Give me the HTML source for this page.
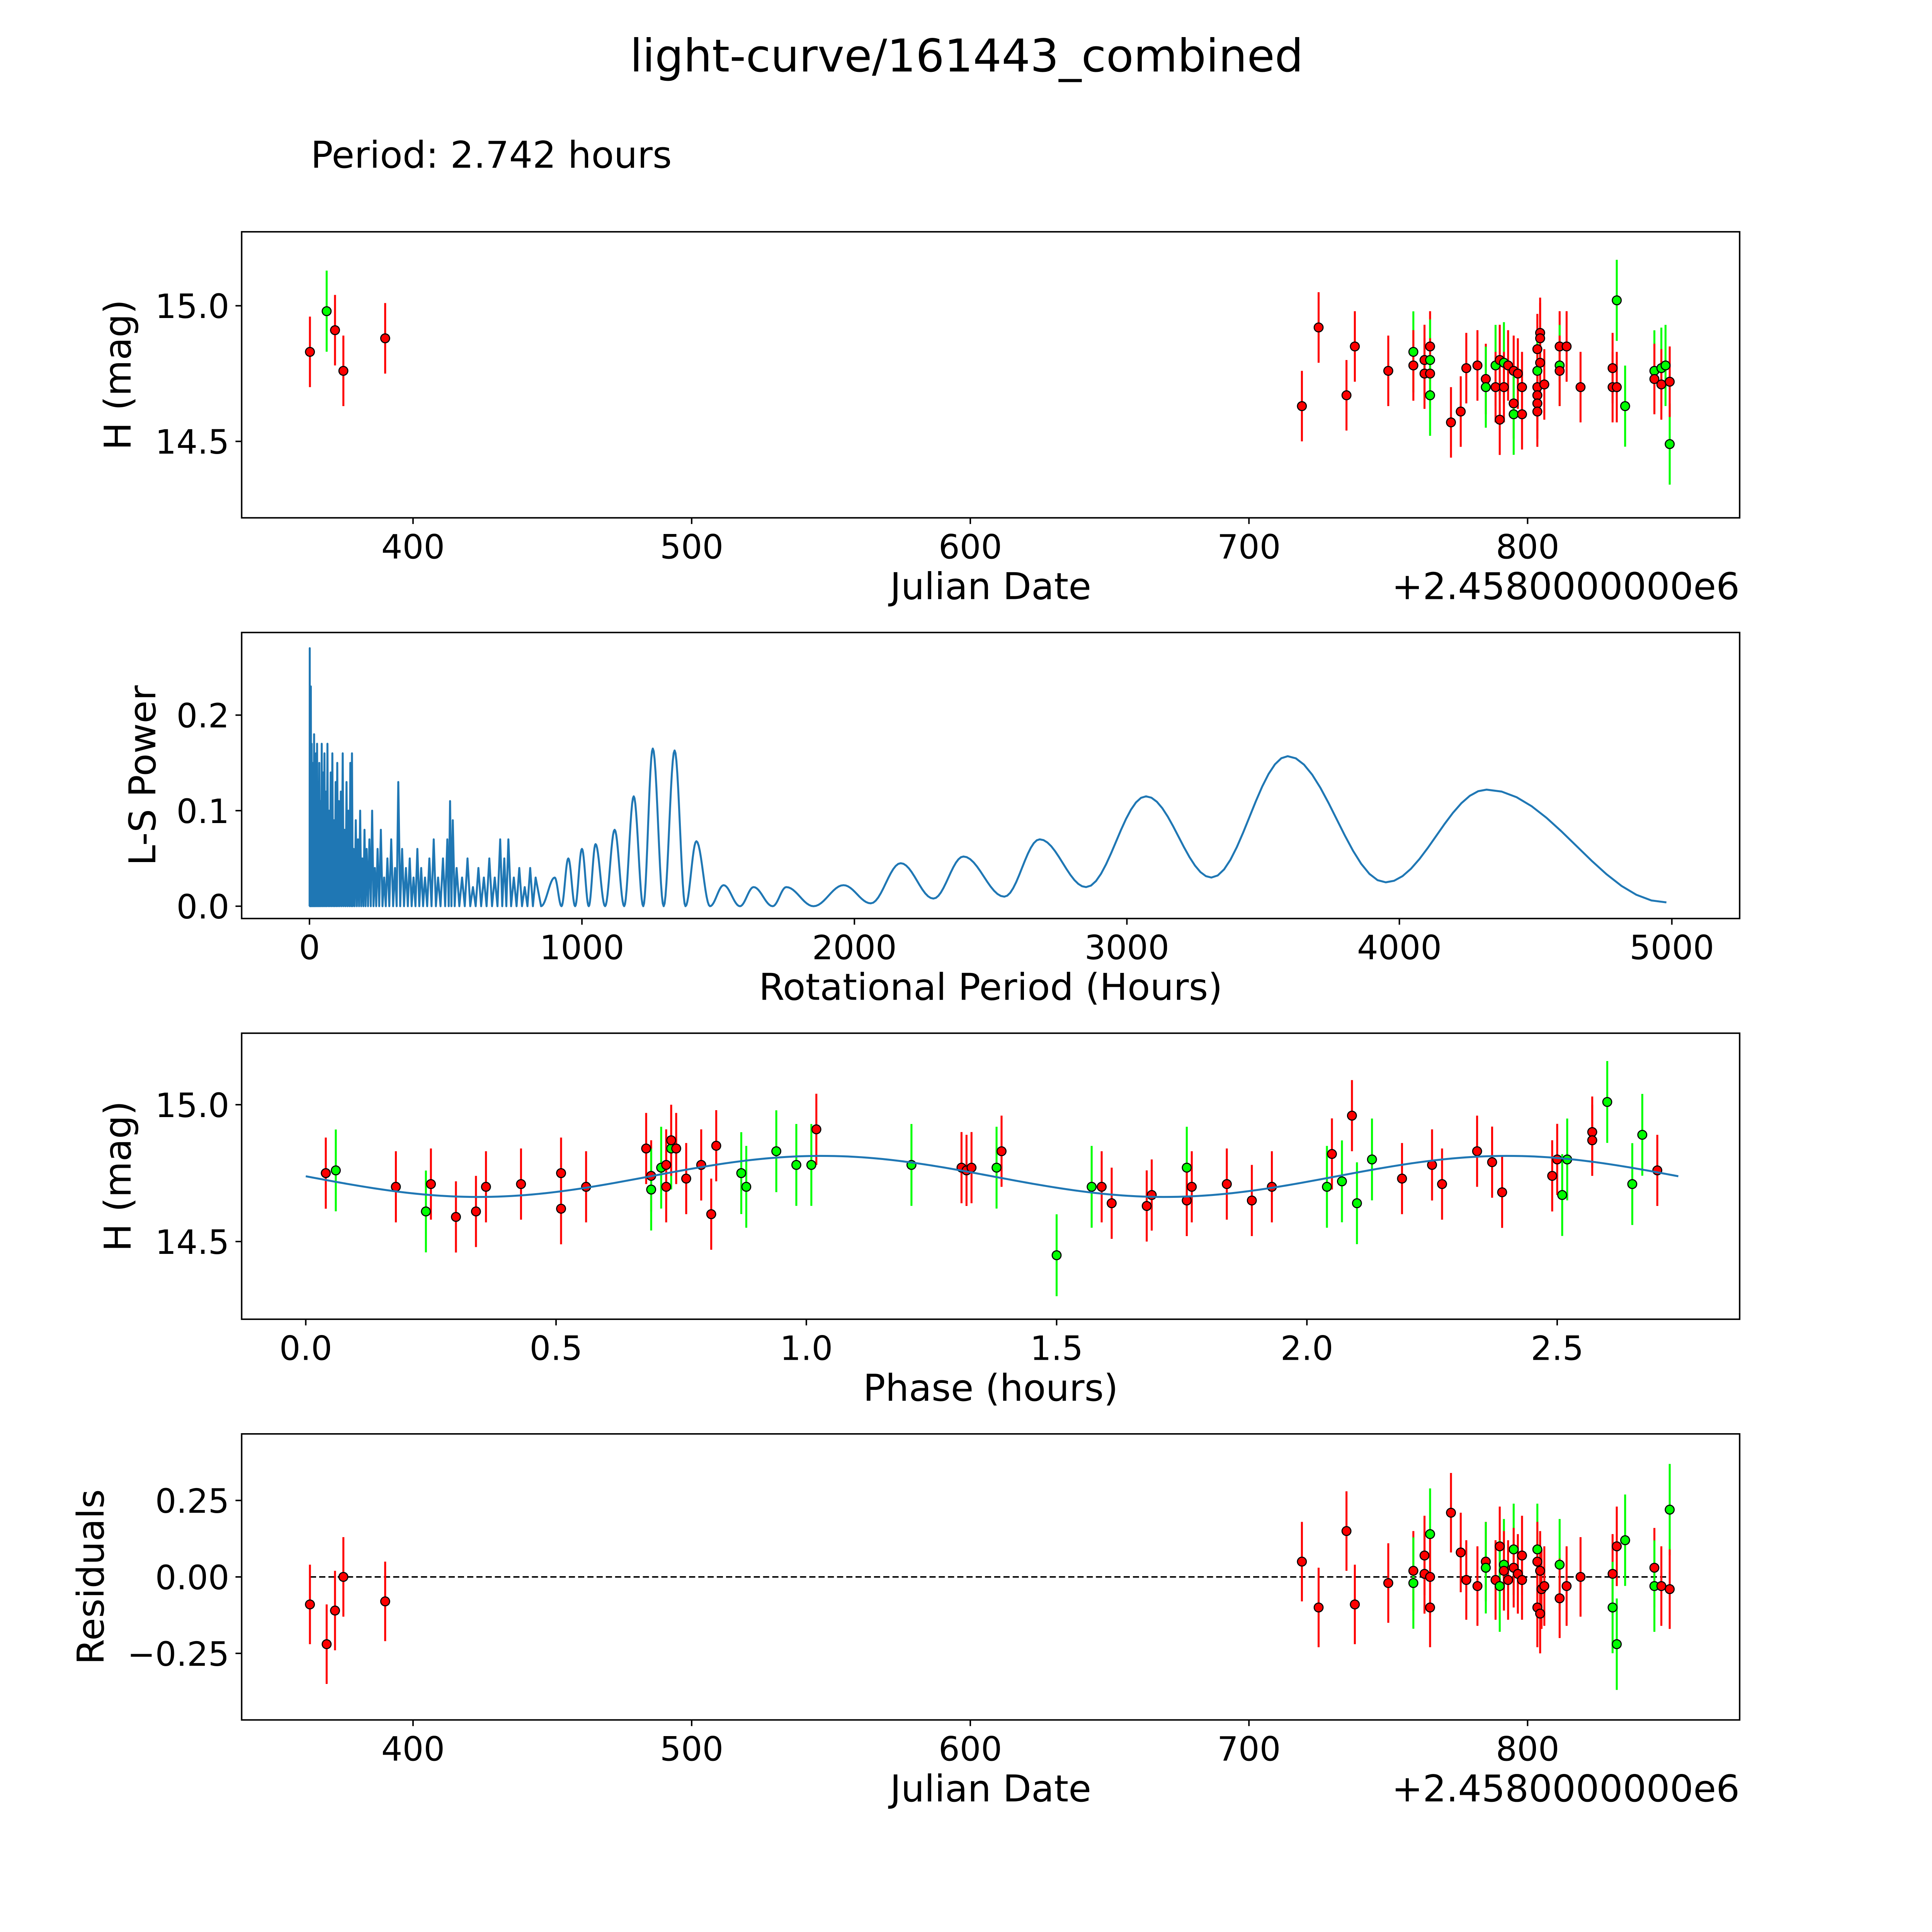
<!DOCTYPE html>
<html><head><meta charset="utf-8"><style>
html,body{margin:0;padding:0;background:#fff;overflow:hidden;width:100vw;height:100vh;}
svg{display:block;width:100vw;height:100vh;font-family:"DejaVu Sans","Liberation Sans",sans-serif;}
</style></head><body>
<svg id="fig" viewBox="0 0 1567 1567" preserveAspectRatio="xMinYMin meet" xmlns="http://www.w3.org/2000/svg">
<rect x="0" y="0" width="1567" height="1567" fill="#fff"/>
<text x="784" y="58" font-size="36.5" text-anchor="middle">light-curve/161443_combined</text>
<text x="252" y="136" font-size="30">Period: 2.742 hours</text>
<g id="plots"></g>
</svg>
<script>
// ---------- DATA ----------
const lcJD = [363,369,372,375,390,719,725,735,738,750,759,759,763,763,765,765,765,765,772.5,776,778,782,785,785,788.5,788.5,790,790,791.5,791.5,793,795,795,795,796.5,798,798,803.5,803.5,803.5,803.5,803.5,803.5,804.5,804.5,804.5,806,811.5,811.5,811.5,814,819,830.5,830.5,832,832,835,845.5,845.5,848,848,849.5,851,851];
const lcMag = [14.83,14.98,14.91,14.76,14.88,14.63,14.92,14.67,14.85,14.76,14.83,14.78,14.80,14.75,14.85,14.80,14.75,14.67,14.57,14.61,14.77,14.78,14.73,14.70,14.78,14.70,14.80,14.58,14.79,14.70,14.78,14.76,14.64,14.60,14.75,14.70,14.60,14.84,14.76,14.70,14.67,14.64,14.61,14.90,14.79,14.88,14.71,14.85,14.78,14.76,14.85,14.70,14.77,14.70,15.02,14.70,14.63,14.76,14.73,14.77,14.71,14.78,14.49,14.72];
const lcCol = ['r','g','r','r','r','r','r','r','r','r','g','r','r','r','r','g','r','g','r','r','r','r','r','g','g','r','r','r','g','r','r','r','r','g','r','r','r','r','g','r','r','r','r','r','r','r','r','r','g','r','r','r','r','r','g','r','g','g','r','g','r','g','g','r'];

const phs = [0.04,0.06,0.18,0.24,0.25,0.30,0.34,0.36,0.43,0.51,0.51,0.56,0.68,0.69,0.69,0.71,0.72,0.72,0.73,0.73,0.74,0.76,0.79,0.81,0.82,0.87,0.88,0.94,0.98,1.01,1.02,1.21,1.31,1.32,1.33,1.38,1.39,1.50,1.57,1.59,1.61,1.68,1.69,1.76,1.76,1.77,1.84,1.89,1.93,2.04,2.05,2.07,2.09,2.10,2.13,2.19,2.25,2.27,2.34,2.37,2.39,2.49,2.50,2.51,2.52,2.57,2.57,2.60,2.65,2.67,2.70];
const phMag = [14.75,14.76,14.70,14.61,14.71,14.59,14.61,14.70,14.71,14.75,14.62,14.70,14.84,14.74,14.69,14.77,14.78,14.70,14.84,14.87,14.84,14.73,14.78,14.60,14.85,14.75,14.70,14.83,14.78,14.78,14.91,14.78,14.77,14.76,14.77,14.77,14.83,14.45,14.70,14.70,14.64,14.63,14.67,14.77,14.65,14.70,14.71,14.65,14.70,14.70,14.82,14.72,14.96,14.64,14.80,14.73,14.78,14.71,14.83,14.79,14.68,14.74,14.80,14.67,14.80,14.90,14.87,15.01,14.71,14.89,14.76];
const phCol = ['r','g','r','g','r','r','r','r','r','r','r','r','r','r','g','g','r','r','g','r','r','r','r','r','r','g','g','g','g','g','r','g','r','r','r','g','r','g','g','r','r','r','r','g','r','r','r','r','r','g','r','g','r','g','g','r','r','r','r','r','r','r','r','g','g','r','r','g','g','g','r'];
const fitParams = [14.738, 0.075, 1.03, 1.371, 2.742]; // mean, amplitude, max phase, half period, period

const resJD = [363,369,372,375,390,719,725,735,738,750,759,759,763,763,765,765,765,772.5,776,778,782,785,785,788.5,790,790,791.5,791.5,793,795,795,796.5,798,798,803.5,803.5,803.5,804.5,804.5,805,806,811.5,811.5,814,819,830.5,830.5,832,832,835,845.5,845.5,848,851,851];
const resVal = [-0.09,-0.22,-0.11,0.00,-0.08,0.05,-0.10,0.15,-0.09,-0.02,0.02,-0.02,0.07,0.01,0.14,0.00,-0.10,0.21,0.08,-0.01,-0.03,0.05,0.03,-0.01,0.10,-0.03,0.04,0.02,-0.01,0.09,0.03,0.01,0.07,-0.01,0.09,0.05,-0.10,-0.12,0.02,-0.04,-0.03,0.04,-0.07,-0.03,0.00,0.01,-0.10,0.10,-0.22,0.12,0.03,-0.03,-0.03,0.22,-0.04];
const resCol = ['r','r','r','r','r','r','r','r','r','r','r','g','r','r','g','r','r','r','r','r','r','r','g','r','r','g','g','r','r','g','r','r','r','r','g','r','r','r','r','r','r','g','r','r','r','r','g','r','g','g','r','g','r','g','r'];

// periodogram: spike peaks (dense region) and smooth extrema
const spikeP = [1,3,5,8,11,14,17,20,24,28,32,36,40,45,50,55,60,66,72,78,84,90,96,102,108,115,122,129,136,143,150,156,162,170,178,186,194,202,210,220,230,240,250,262,274,286,300,314,326,340,354,368,382,396,410,424,440,456,472,490,506,516,526,540,560,580,600,620,640,660,680,700,715,730,750,770,790,810,830];
const spikePow = [0.27,0.18,0.23,0.17,0.12,0.15,0.18,0.10,0.16,0.17,0.13,0.15,0.11,0.17,0.14,0.16,0.12,0.17,0.10,0.14,0.16,0.09,0.13,0.15,0.11,0.12,0.16,0.08,0.13,0.10,0.15,0.16,0.06,0.09,0.07,0.10,0.05,0.08,0.06,0.07,0.10,0.04,0.06,0.08,0.03,0.05,0.07,0.04,0.13,0.06,0.04,0.05,0.03,0.06,0.04,0.03,0.05,0.07,0.03,0.05,0.07,0.11,0.09,0.04,0.03,0.05,0.02,0.04,0.03,0.05,0.03,0.07,0.05,0.07,0.03,0.04,0.02,0.04,0.03];
const smoothP = [850,900,925,950,975,1000,1025,1050,1085,1120,1155,1190,1225,1260,1300,1340,1380,1420,1470,1520,1580,1630,1700,1750,1850,1960,2060,2170,2290,2400,2550,2680,2850,3070,3310,3590,3950,4320,4980];
const smoothPow = [0.0,0.03,0.0,0.05,0.0,0.06,0.0,0.065,0.0,0.08,0.0,0.115,0.0,0.165,0.0,0.163,0.0,0.068,0.0,0.022,0.0,0.02,0.0,0.02,0.0,0.022,0.003,0.045,0.008,0.052,0.01,0.07,0.02,0.115,0.03,0.157,0.025,0.122,0.004];

// ---------- DRAWING ----------
const NS = "http://www.w3.org/2000/svg";
const root = document.getElementById('plots');
function mk(tag, attrs, parent){ const e=document.createElementNS(NS,tag); for(const k in attrs) e.setAttribute(k,attrs[k]); (parent||root).appendChild(e); return e; }
function lin(d0,d1,p0,p1){ return v => p0 + (v-d0)*(p1-p0)/(d1-d0); }
const RED="#ff0000", GRN="#00ff00";
const TF=27, LF=30;

function frame(name, x0,y0,x1,y1, xs, xt, xtl, ys, yt, xlabel, ylabel, ylx, offset){
  const g = mk('g',{});
  
  
  xt.forEach((t,i)=>{ const x=xs(t);
    mk('line',{x1:x,x2:x,y1:y1,y2:y1+5,stroke:'#000','stroke-width':1.2},g);
    const tx=mk('text',{x:x,y:y1+33,'font-size':TF,'text-anchor':'middle'},g); tx.textContent=xtl[i];
    
    
  });
  yt.forEach(t=>{ const y=ys(t[0]);
    mk('line',{x1:x0-5,x2:x0,y1:y,y2:y,stroke:'#000','stroke-width':1.2},g);
    const tx=mk('text',{x:x0-10,y:y+10,'font-size':TF,'text-anchor':'end'},g); tx.textContent=t[1];
    
    
  });
  const xl=mk('text',{x:(x0+x1)/2,y:y1+66,'font-size':LF,'text-anchor':'middle'},g); xl.textContent=xlabel;
  
  
  const yl=mk('text',{x:ylx,y:(y0+y1)/2,'font-size':LF,'text-anchor':'middle',transform:`rotate(-90 ${ylx} ${(y0+y1)/2})`},g); yl.textContent=ylabel;
  
  
  if(offset){ const o=mk('text',{x:x1,y:y1+66,'font-size':LF,'text-anchor':'end'},g); o.textContent=offset;
    
     }
  return g;
}
function border(x0,y0,x1,y1){ const r=mk('rect',{x:x0,y:y0,width:x1-x0,height:y1-y0,fill:'none',stroke:'#000','stroke-width':1.2});
  
   }
function pts(g, xs, ys, X, Y, C, err){
  X.forEach((v,i)=>{ const c=C[i]==='g'?GRN:RED; const e=C[i]==='g'?err*1.15:err;
    const x=xs(v), ya=ys(Y[i]-e), yb=ys(Y[i]+e);
    const l=mk('line',{x1:x,x2:x,y1:ya,y2:yb,stroke:c,'stroke-width':1.6},g);
    
    
  });
  X.forEach((v,i)=>{ const c=C[i]==='g'?GRN:RED;
    const p=mk('circle',{cx:xs(v),cy:ys(Y[i]),r:3.6,fill:c,stroke:'#000','stroke-width':0.9},g);
    
    
  });
}

// Panel 1
{ const X0=196,X1=1411,Y0=188,Y1=420;
  const xs=lin(400,800,335,1239), ys=lin(15.0,14.5,248,358);
  const g=frame('light-curve-panel',X0,Y0,X1,Y1,xs,[400,500,600,700,800],['400','500','600','700','800'],ys,[[15.0,'15.0'],[14.5,'14.5']],'Julian Date','H (mag)',106,'+2.4580000000e6');
  pts(g,xs,ys,lcJD,lcMag,lcCol,0.13);
  border(X0,Y0,X1,Y1);
}
// Panel 2
{ const X0=196,X1=1411,Y0=513,Y1=745;
  const xs=lin(0,5000,251,1356), ys=lin(0,0.2,735,580);
  const g=frame('periodogram-panel',X0,Y0,X1,Y1,xs,[0,1000,2000,3000,4000,5000],['0','1000','2000','3000','4000','5000'],ys,[[0,'0.0'],[0.1,'0.1'],[0.2,'0.2']],'Rotational Period (Hours)','L-S Power',126,null);
  let d=`M${xs(0)},${ys(0)}`;
  let prev=0;
  spikeP.forEach((p,i)=>{ d+=` L${xs((prev+p)/2)},${ys(0)} L${xs(p)},${ys(spikePow[i])}`; prev=p; });
  d+=` L${xs(smoothP[0])},${ys(smoothPow[0])}`;
  for(let i=1;i<smoothP.length;i++){
    const a=smoothP[i-1],b=smoothP[i],pa=smoothPow[i-1],pb=smoothPow[i];
    for(let k=1;k<=12;k++){ const t=k/12; const s=(1-Math.cos(Math.PI*t))/2;
      d+=` L${xs(a+(b-a)*t).toFixed(2)},${ys(pa+(pb-pa)*s).toFixed(2)}`; }
  }
  const path=mk('path',{d:d,fill:'none',stroke:'#1f77b4','stroke-width':1.6,'stroke-linejoin':'round'},g);
  
  
  border(X0,Y0,X1,Y1);
}
// Panel 3
{ const X0=196,X1=1411,Y0=838,Y1=1070;
  const xs=lin(0,1,248,654), ys=lin(15.0,14.5,896,1007);
  const g=frame('phase-folded-panel',X0,Y0,X1,Y1,xs,[0,0.5,1,1.5,2,2.5],['0.0','0.5','1.0','1.5','2.0','2.5'],ys,[[15.0,'15.0'],[14.5,'14.5']],'Phase (hours)','H (mag)',106,null);
  pts(g,xs,ys,phs,phMag,phCol,0.13);
  let d=''; const [m,A,pm,hp,P]=fitParams;
  for(let k=0;k<=200;k++){ const p=P*k/200; const v=m+A*Math.cos(2*Math.PI*(p-pm)/hp);
    d+=(k?' L':'M')+xs(p).toFixed(2)+','+ys(v).toFixed(2); }
  const fit=mk('path',{d:d,fill:'none',stroke:'#1f77b4','stroke-width':1.6},g);
  
  
  border(X0,Y0,X1,Y1);
}
// Panel 4
{ const X0=196,X1=1411,Y0=1163,Y1=1395;
  const xs=lin(400,800,335,1239), ys=lin(0,0.25,1279,1217);
  const g=frame('residuals-panel',X0,Y0,X1,Y1,xs,[400,500,600,700,800],['400','500','600','700','800'],ys,[[0.25,'0.25'],[0,'0.00'],[-0.25,'\u22120.25']],'Julian Date','Residuals',84,'+2.4580000000e6');
  const z=mk('line',{x1:xs(363),x2:xs(851),y1:ys(0),y2:ys(0),stroke:'#000','stroke-width':1.2,'stroke-dasharray':'5,2.5'},g);
  
  
  pts(g,xs,ys,resJD,resVal,resCol,0.13);
  border(X0,Y0,X1,Y1);
}
</script>
</body></html>
